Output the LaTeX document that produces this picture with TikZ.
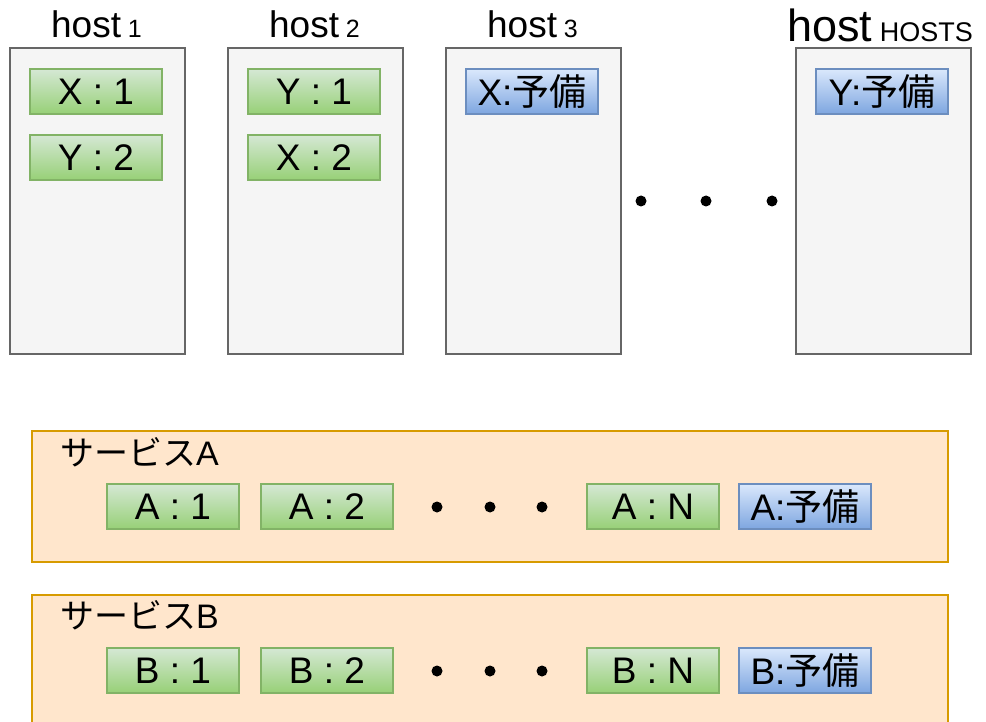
\documentclass[tikz,border=0pt]{standalone}
\usepackage{fontspec}
\setmainfont{Liberation Sans}
\newfontfamily\cjk{Noto Sans CJK JP}
\definecolor{hostfill}{HTML}{F5F5F5}
\definecolor{hostdraw}{HTML}{666666}
\definecolor{gtop}{HTML}{D5E8D4}
\definecolor{gbot}{HTML}{97D077}
\definecolor{gdraw}{HTML}{82B366}
\definecolor{btop}{HTML}{DAE8FC}
\definecolor{bbot}{HTML}{7EA6E0}
\definecolor{bdraw}{HTML}{6C8EBF}
\definecolor{svcfill}{HTML}{FFE6CC}
\definecolor{svcdraw}{HTML}{D79B00}
\newcommand{\fsz}[1]{\fontsize{#1}{#1}\selectfont}
\begin{document}
\begin{tikzpicture}[x=1pt,y=-1pt,
  hostbox/.style={draw=hostdraw, fill=hostfill, line width=1.6pt, rectangle, minimum width=175pt, minimum height=306pt, inner sep=0pt, anchor=north west},
  svcbox/.style={draw=svcdraw, fill=svcfill, line width=1.6pt, rectangle, minimum width=916pt, inner sep=0pt, anchor=north west},
  greenbox/.style={draw=gdraw, line width=1.2pt, top color=gtop, bottom color=gbot, minimum width=132pt, minimum height=45pt, inner sep=0pt, font=\fsz{37}},
  bluebox/.style={draw=bdraw, line width=1.2pt, top color=btop, bottom color=bbot, minimum width=132pt, minimum height=45pt, inner sep=0pt, font=\fsz{37}},
  title/.style={anchor=base, inner sep=0pt},
  svclabel/.style={anchor=base west, inner sep=0pt, font=\fsz{34}},
  dotmark/.style={circle, fill=black, inner sep=0pt, minimum size=11pt}
]
\useasboundingbox (0,0) rectangle (986,722);
\clip (0,0) rectangle (986,722);
\fill[white] (0,0) rectangle (986,722);

% hosts
\node[hostbox] (h1) at (9,47) {};
\node[hostbox] (h2) at (227,47) {};
\node[hostbox] (h3) at (445,47) {};
\node[hostbox] (h4) at (795,47) {};

\node[title] (t1) at (96.5,38) {\fsz{37}host{\fsz{25}\ 1}};
\node[title] (t2) at (314.5,38) {\fsz{37}host{\fsz{25}\ 2}};
\node[title] (t3) at (532.5,38) {\fsz{37}host{\fsz{25}\ 3}};
\node[title] (t4) at (880,42) {\fsz{45}host{\fsz{27}\ HOSTS}};

\node[greenbox] (x1) at (96,91.5) {X : 1};
\node[greenbox] (y2) at (96,157.5) {Y : 2};
\node[greenbox] (y1) at (314,91.5) {Y : 1};
\node[greenbox] (x2) at (314,157.5) {X : 2};
\node[bluebox] (xs) at (532,91.5) {X:{\cjk 予備}};
\node[bluebox] (ys) at (882,91.5) {Y:{\cjk 予備}};

\node[dotmark] (hd1) at (641,201) {};
\node[dotmark] (hd2) at (706,201) {};
\node[dotmark] (hd3) at (772,201) {};

% service A
\node[svcbox, minimum height=131pt] (sa) at (31,430) {};
\node[svclabel] (la) at (60,465) {{\cjk サービス}A};
\node[greenbox] (a1) at (173,506.5) {A : 1};
\node[greenbox] (a2) at (327,506.5) {A : 2};
\node[dotmark] (ad1) at (437,507) {};
\node[dotmark] (ad2) at (490,507) {};
\node[dotmark] (ad3) at (542,507) {};
\node[greenbox] (an) at (653,506.5) {A : N};
\node[bluebox] (as) at (805,506.5) {A:{\cjk 予備}};

% service B
\node[svcbox, minimum height=160pt] (sb) at (31,594) {};
\node[svclabel] (lb) at (60,628) {{\cjk サービス}B};
\node[greenbox] (b1) at (173,670.5) {B : 1};
\node[greenbox] (b2) at (327,670.5) {B : 2};
\node[dotmark] (bd1) at (437,671) {};
\node[dotmark] (bd2) at (490,671) {};
\node[dotmark] (bd3) at (542,671) {};
\node[greenbox] (bn) at (653,670.5) {B : N};
\node[bluebox] (bs) at (805,670.5) {B:{\cjk 予備}};
\end{tikzpicture}
\end{document}
